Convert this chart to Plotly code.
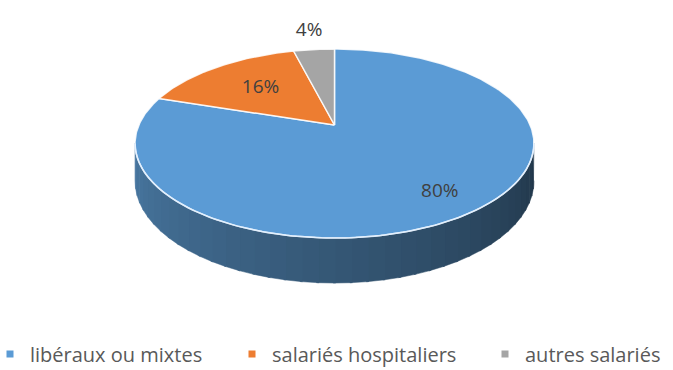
import math
import plotly.graph_objects as go

# ---- data ----
categories = ["libéraux ou mixtes", "salariés hospitaliers", "autres salariés"]
values = [80, 16, 4]
labels = ["80%", "16%", "4%"]
colors = ["#5B9BD5", "#ED7D31", "#A5A5A5"]

# ---- pseudo-3D projection (style / layout) ----
W, H = 673, 370
CX, CY = 334.5, 125.0      # projected pie apex (pixels)
B, A = 195.6, 90.9         # horizontal / vertical projected radii
C = 0.196                  # perspective factor
D0 = 36.2                  # extrusion depth
TEXT = "#404040"
FONT = "Open Sans"


def proj(phi_deg, r=1.0, drop=0.0):
    p = math.radians(phi_deg)
    u, v = r * math.sin(p), r * math.cos(p)
    den = 1 + C * v
    return CX + B * u / den, CY - A * v / den + drop * D0 / den


def arc(a0, a1, r=1.0, drop=0.0):
    n = max(2, int(abs(a1 - a0)) + 1)
    pts = [proj(a0 + (a1 - a0) * i / (n - 1), r, drop) for i in range(n)]
    return [p[0] for p in pts], [p[1] for p in pts]


def shade(hexcol, k):
    h = hexcol.lstrip("#")
    r, g, b = (int(h[i:i + 2], 16) for i in (0, 2, 4))
    return "rgb(%d,%d,%d)" % (r * k, g * k * 0.97, b * k * 0.95)


total = sum(values)
starts, ends = [], []
acc = 0.0
for v in values:
    starts.append(acc / total * 360)
    acc += v
    ends.append(acc / total * 360)

fig = go.Figure()

# visible (front) part of the cylinder side: between silhouette angles
front_a = math.degrees(math.acos(-C))
front_b = 360 - front_a
N_STRIPS = 40
for s in range(N_STRIPS):
    a0 = front_a + (front_b - front_a) * s / N_STRIPS
    a1 = front_a + (front_b - front_a) * (s + 1) / N_STRIPS
    am = (a0 + a1) / 2
    idx = next(i for i in range(len(values)) if starts[i] <= am < ends[i])
    t = (am - front_a) / (front_b - front_a)        # 0 at right, 1 at left
    k = 0.36 + 0.44 * t
    xt, yt = arc(a0 - 0.3, a1 + 0.3)
    xb, yb = arc(a1 + 0.3, a0 - 0.3, drop=1.0)
    col = shade(colors[idx], k)
    fig.add_trace(go.Scatter(x=xt + xb, y=yt + yb, fill="toself", mode="lines",
                             line=dict(width=0.5, color=col), fillcolor=col,
                             hoverinfo="skip", showlegend=False))

xr, yr = arc(front_a, front_b)
# top faces
for i in range(len(values)):
    xs, ys = arc(starts[i], ends[i])
    xs = [CX] + xs + [CX]
    ys = [CY] + ys + [CY]
    fig.add_trace(go.Scatter(x=xs, y=ys, fill="toself", mode="lines",
                             line=dict(width=1.5, color="rgba(255,255,255,0.85)"),
                             fillcolor=colors[i], hoverinfo="skip", showlegend=False))
# light rim line along the front top edge
fig.add_trace(go.Scatter(x=xr, y=yr, mode="lines",
                         line=dict(width=1.5, color="rgba(225,240,255,0.9)"),
                         hoverinfo="skip", showlegend=False))

# data labels
lx, ly = [], []
for i, v in enumerate(values):
    mid = (starts[i] + ends[i]) / 2
    r = 0.8 if v / total > 0.5 else (0.6 if v / total >= 0.1 else 1.3)
    px, py = proj(mid, r)
    lx.append(px)
    ly.append(py)
fig.add_trace(go.Scatter(x=lx, y=ly, mode="text", text=labels,
                         textfont=dict(family=FONT, size=19, color=TEXT),
                         hoverinfo="skip", showlegend=False))

# legend entries
legend_ids = ["legend", "legend2", "legend3"]
text_starts = [30, 272, 525]
for i, cat in enumerate(categories):
    fig.add_trace(go.Scatter(x=[None], y=[None], mode="markers", name=cat,
                             marker=dict(symbol="square", size=7, color=colors[i]),
                             legend=legend_ids[i], showlegend=True))

leg_common = dict(orientation="h", yanchor="middle", y=1 - 354 / H, xanchor="left",
                  font=dict(family=FONT, size=20, color="#595959"),
                  bgcolor="rgba(0,0,0,0)", itemwidth=30, borderwidth=0)
layout_leg = {}
for i, lid in enumerate(legend_ids):
    layout_leg[lid] = dict(leg_common, x=(text_starts[i] - 40) / W)

fig.update_layout(
    width=W, height=H,
    margin=dict(l=0, r=0, t=0, b=0, autoexpand=False),
    paper_bgcolor="white", plot_bgcolor="white",
    xaxis=dict(range=[0, W], visible=False, fixedrange=True),
    yaxis=dict(range=[H, 0], visible=False, fixedrange=True),
    **layout_leg,
)

fig.write_html("out.html", config={"displayModeBar": False},
               post_script="document.body.style.margin='0';document.body.style.overflow='hidden';")
